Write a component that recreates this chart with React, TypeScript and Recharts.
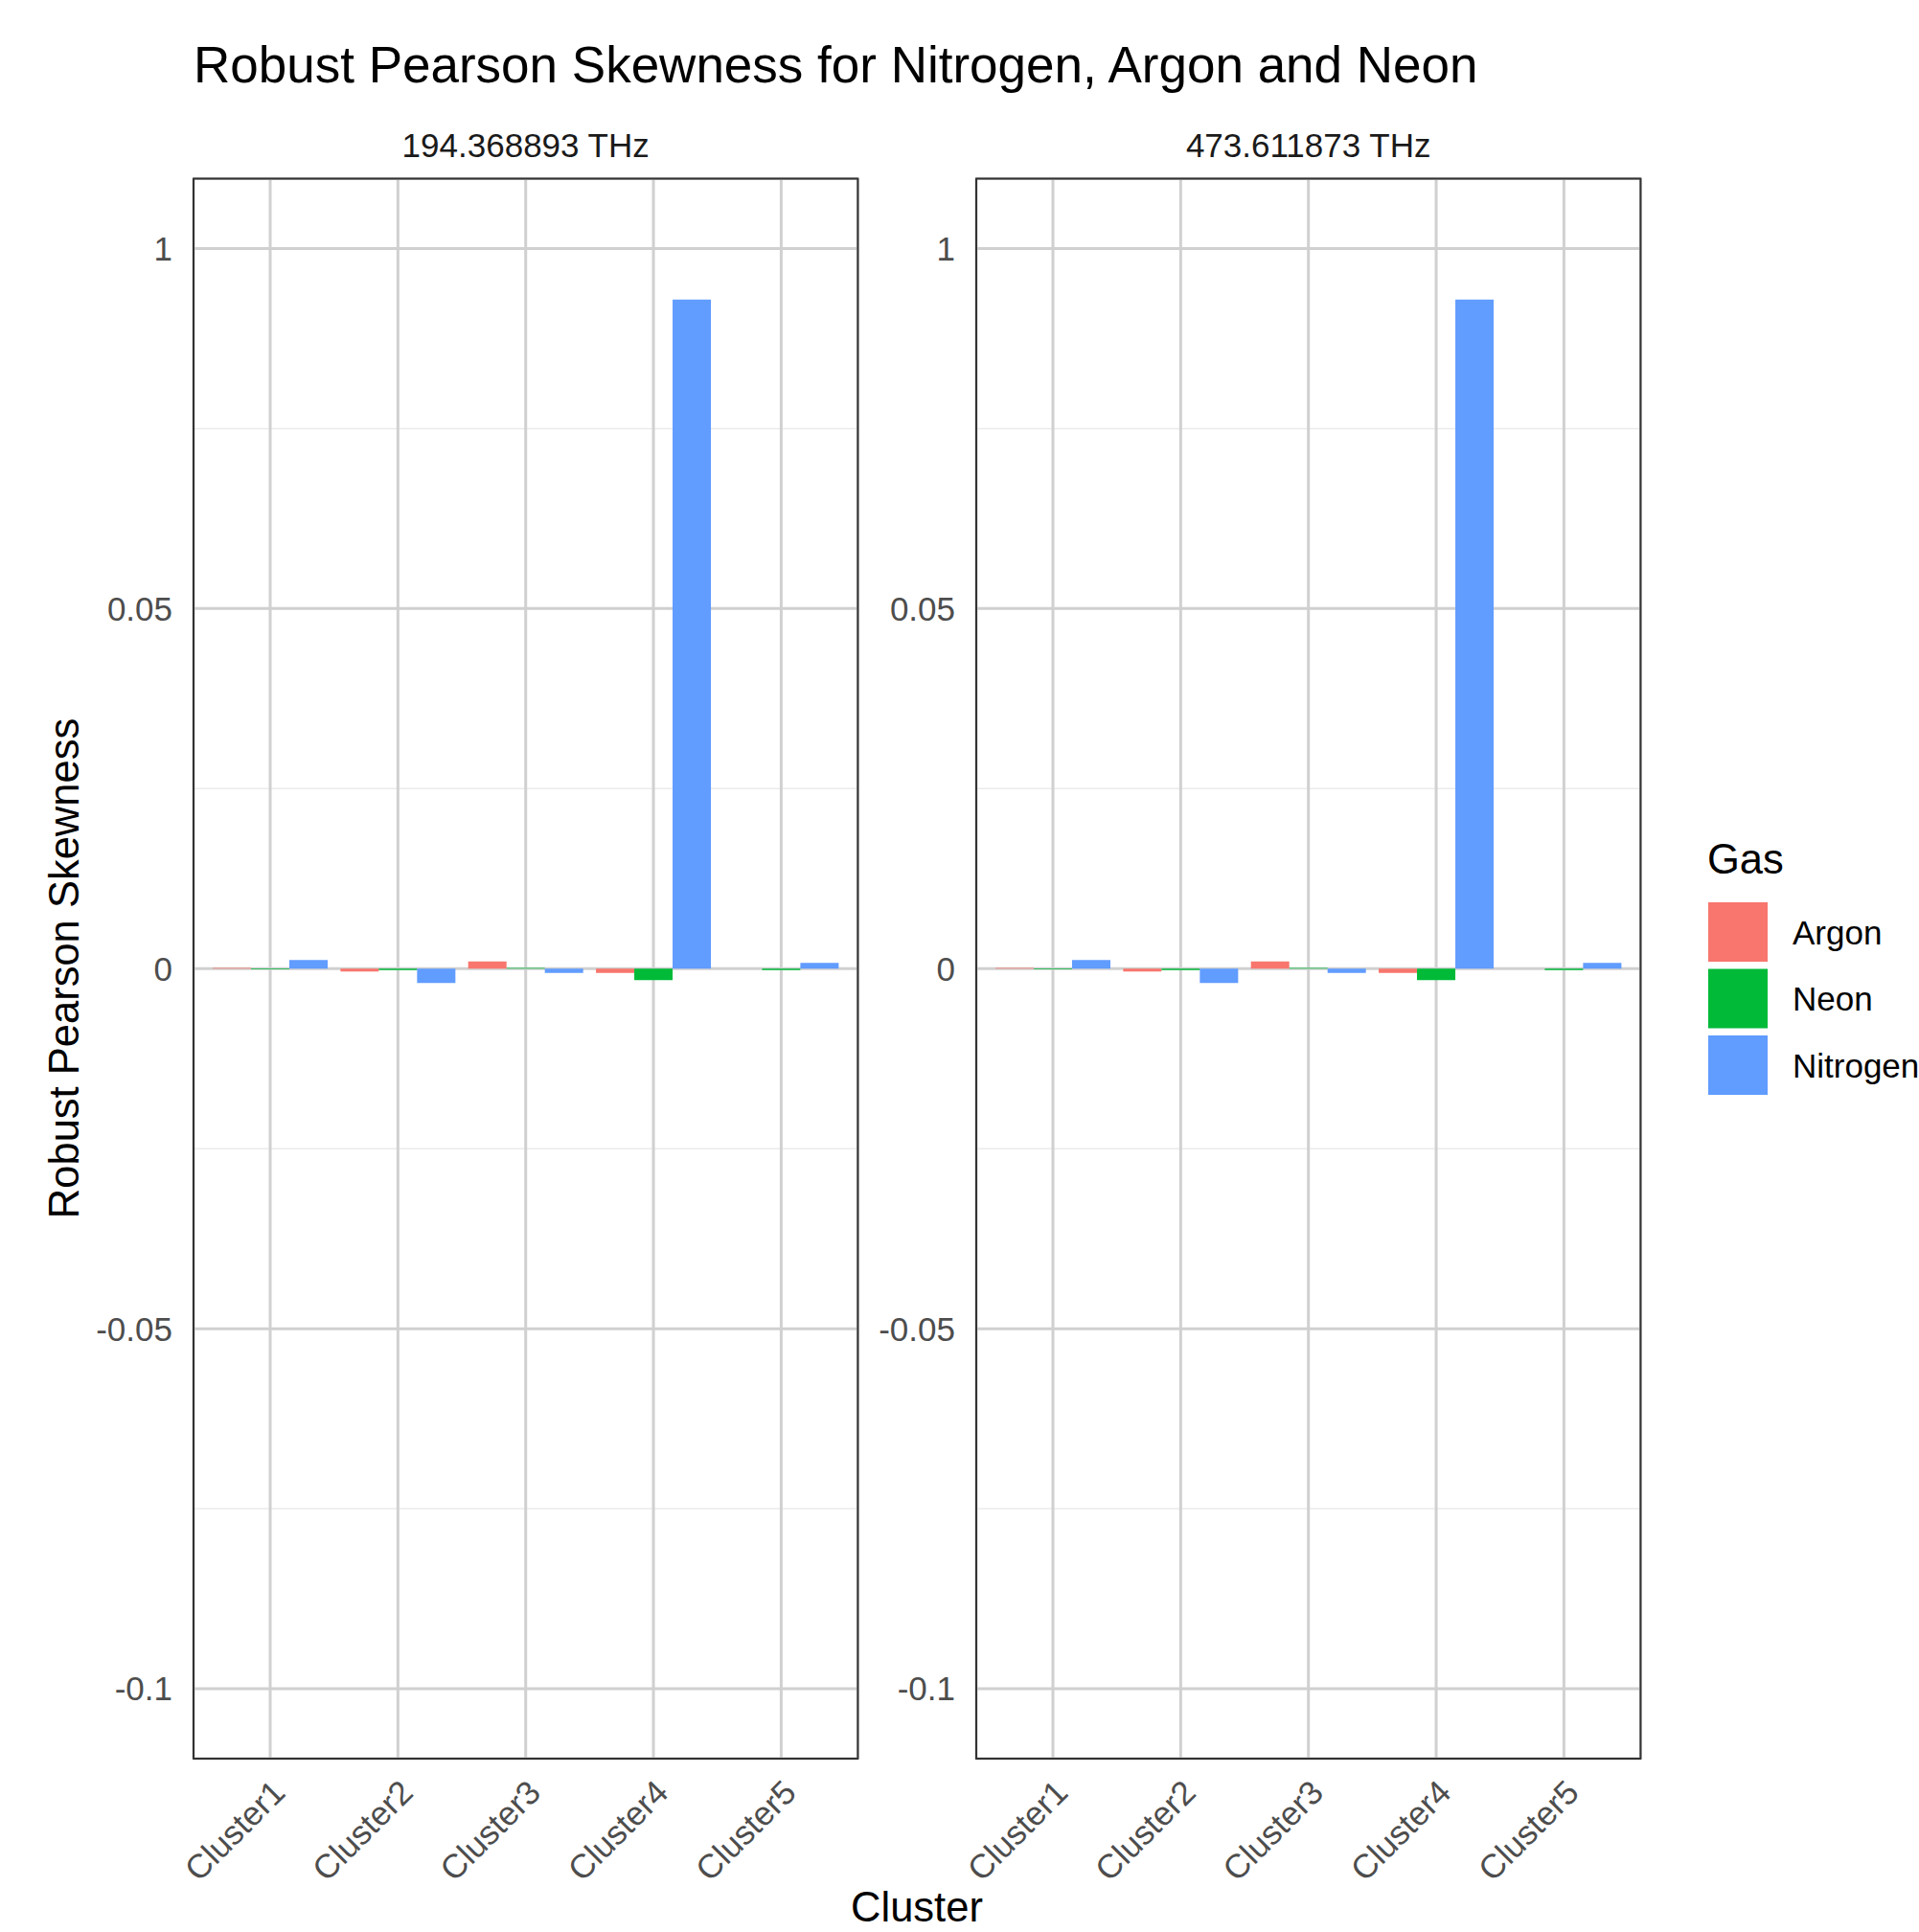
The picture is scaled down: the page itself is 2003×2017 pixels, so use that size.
import { BarChart, Bar, XAxis, YAxis, CartesianGrid } from "recharts";

const clusters = ["Cluster1", "Cluster2", "Cluster3", "Cluster4", "Cluster5"];
const gases = ["Argon", "Neon", "Nitrogen"];
const gasColors = ["#F8766D", "#00BA38", "#619CFF"];
const frequencies = ["194.368893 THz", "473.611873 THz"];

// values, per cluster
const argon194 = [0.0001, -0.0004, 0.001, -0.0006, 0];
const neon194 = [-0.0001, -0.0002, 0.0001, -0.0016, -0.0002];
const nitrogen194 = [0.0012, -0.002, -0.0006, 0.0929, 0.0008];

const argon473 = [0.0001, -0.0004, 0.001, -0.0006, 0];
const neon473 = [-0.0001, -0.0002, 0.0001, -0.0016, -0.0002];
const nitrogen473 = [0.0012, -0.002, -0.0006, 0.0929, 0.0008];

const yTicks = [-0.1, -0.05, 0, 0.05, 0.1];
const yTickLabels = ["-0.1", "-0.05", "0", "0.05", "1"];
const yMinorTicks = [-0.075, -0.025, 0.025, 0.075];
const yLimits = [-0.1097, 0.1097];

const FONT = "'Liberation Sans', Arial, sans-serif";

function buildRows(argon: number[], neon: number[], nitrogen: number[]) {
  return clusters.map((c, i) => ({
    cluster: c,
    Argon: argon[i],
    Neon: neon[i],
    Nitrogen: nitrogen[i],
  }));
}

const panels = [
  { label: frequencies[0], rows: buildRows(argon194, neon194, nitrogen194), left: 0 },
  { label: frequencies[1], rows: buildRows(argon473, neon473, nitrogen473), left: 817 },
];

// plot area geometry
const CHART_W = 900;
const CHART_H = 2017;
const PLOT_TOP = 186.5;
const PLOT_BOTTOM = 1836;
const Y_AXIS_W = 190;
const M_LEFT = 12;
const M_RIGHT = 4.6;
const PLOT_W = CHART_W - M_LEFT - Y_AXIS_W - M_RIGHT;
const X_AXIS_H = 170;

function ClusterTick(props: any) {
  const { x, y, payload } = props;
  return (
    <g transform={`translate(${x},${y + 18})`}>
      <text
        transform="rotate(-45)"
        textAnchor="end"
        dy="0.71em"
        fill="#4D4D4D"
        fontSize={35}
        fontFamily={FONT}
      >
        {payload.value}
      </text>
    </g>
  );
}

function Panel({ rows, left }: { rows: any[]; left: number }) {
  const band = PLOT_W / 5.2;
  return (
    <div style={{ position: "absolute", left, top: 0 }}>
      <BarChart
        width={CHART_W}
        height={CHART_H}
        data={rows}
        margin={{
          top: PLOT_TOP,
          right: M_RIGHT,
          left: M_LEFT,
          bottom: CHART_H - PLOT_BOTTOM - X_AXIS_H,
        }}
        barCategoryGap="5%"
        barGap={0}
      >
        <CartesianGrid
          vertical={false}
          horizontalValues={yMinorTicks}
          stroke="#EBEBEB"
          strokeWidth={1.5}
        />
        <CartesianGrid stroke="#D0D0D0" strokeWidth={3} />
        <XAxis
          dataKey="cluster"
          padding={{ left: band * 0.1, right: band * 0.1 }}
          axisLine={false}
          tickLine={false}
          tickSize={0}
          interval={0}
          height={X_AXIS_H}
          tick={<ClusterTick />}
        />
        <YAxis
          type="number"
          domain={yLimits}
          allowDataOverflow
          ticks={yTicks}
          interval={0}
          width={Y_AXIS_W}
          axisLine={false}
          tickLine={false}
          tickSize={0}
          tickMargin={22}
          tickFormatter={(v: number) => yTickLabels[yTicks.indexOf(v)]}
          tick={{ fill: "#4D4D4D", fontSize: 35, fontFamily: FONT }}
        />
        {gases.map((g, i) => (
          <Bar key={g} dataKey={g} fill={gasColors[i]} isAnimationActive={false} />
        ))}
      </BarChart>
    </div>
  );
}

export default function App() {
  return (
    <div
      style={{
        position: "absolute",
        left: 0,
        top: 0,
        width: 2003,
        height: 2017,
        background: "#FFFFFF",
        overflow: "hidden",
      }}
    >
      {panels.map((p) => (
        <Panel key={p.label} rows={p.rows} left={p.left} />
      ))}
      <svg
        width={2003}
        height={2017}
        style={{ position: "absolute", left: 0, top: 0, pointerEvents: "none" }}
        fontFamily={FONT}
      >
        <text x={202} y={86} fontSize={53} fill="#000">
          Robust Pearson Skewness for Nitrogen, Argon and Neon
        </text>
        {panels.map((p) => {
          const x0 = p.left + M_LEFT + Y_AXIS_W;
          return (
            <g key={p.label}>
              <text x={x0 + PLOT_W / 2} y={164} fontSize={35} fill="#1A1A1A" textAnchor="middle">
                {p.label}
              </text>
              <rect
                x={x0}
                y={PLOT_TOP}
                width={PLOT_W}
                height={PLOT_BOTTOM - PLOT_TOP}
                fill="none"
                stroke="#333333"
                strokeWidth={2}
              />
            </g>
          );
        })}
        <text x={957} y={2006} fontSize={43.5} fill="#000" textAnchor="middle">
          Cluster
        </text>
        <text
          transform="translate(82,1011) rotate(-90)"
          fontSize={43.5}
          fill="#000"
          textAnchor="middle"
        >
          Robust Pearson Skewness
        </text>
        <text x={1782} y={912} fontSize={43.5} fill="#000">
          Gas
        </text>
        {gases.map((g, i) => (
          <g key={g}>
            <rect x={1783} y={942 + i * 69.5} width={62} height={62} fill={gasColors[i]} />
            <text x={1871} y={942 + i * 69.5 + 31 + 12.5} fontSize={35} fill="#000">
              {g}
            </text>
          </g>
        ))}
      </svg>
    </div>
  );
}
